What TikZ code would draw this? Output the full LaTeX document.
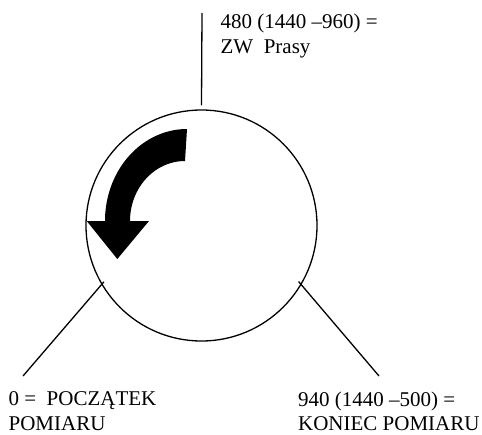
\documentclass[tikz,border=0pt]{standalone}
\usepackage{fontspec}
\setmainfont{Liberation Serif}
\usetikzlibrary{calc}
\begin{document}
\begin{tikzpicture}[x=1pt,y=-1pt,line width=1.3pt,
  lbl/.style={inner sep=0pt, anchor=north west, align=left, font=\fontsize{21}{24.5}\selectfont},
  leader/.style={line width=1.3pt}]
\useasboundingbox (0,0) rectangle (482,434);
% dial
\node[circle, draw, line width=1.3pt, minimum size=231pt, inner sep=0pt] (dial) at (201.5,225.5) {};
% curved arrow
\fill (187,129) -- plot[domain=90:180, samples=40] ({187+82*cos(\x)},{221-92*sin(\x)})
  -- (86.7,221) -- (117.3,259) -- (149,221) -- (130,221)
  -- plot[domain=180:90, samples=40] ({185+55*cos(\x)},{221-60*sin(\x)}) -- cycle;
% labels
\node[lbl] (ztxt) at (220,13.5) {480 (1440 –960) =\\ZW\ \ Prasy};
\node[lbl] (start) at (8,391) {0 =\ \ POCZĄTEK\\POMIARU};
\node[lbl] (stop) at (297.5,391) {940 (1440 –500) =\\KONIEC POMIARU};
% leader lines
\coordinate (ztop) at (202,13);
\coordinate (sfoot) at (23,376);
\coordinate (efoot) at (379,376);
\draw[leader] (ztop) -- ([yshift=4pt]dial.north);
\draw[leader] (sfoot) -- ($(dial.center)!0.97!(dial.210)$);
\draw[leader] (efoot) -- ($(dial.center)!0.965!(dial.-30)$);
\end{tikzpicture}
\end{document}
